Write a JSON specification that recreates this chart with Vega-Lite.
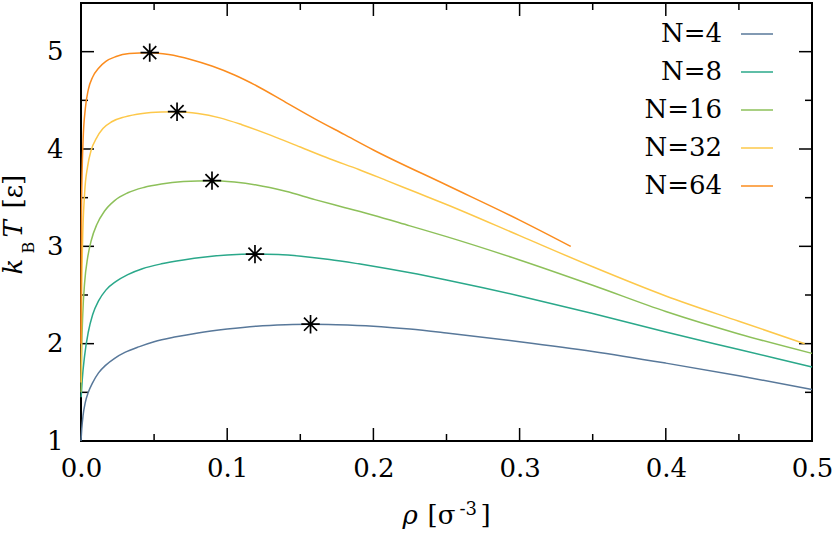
{
  "$schema": "https://vega.github.io/schema/vega-lite/v6.json",
  "autosize": {"type": "none"},
  "width": 731,
  "height": 438,
  "padding": {"left": 81, "top": 3, "right": 20, "bottom": 92},
  "background": "white",
  "config": {
    "view": {"stroke": "black", "strokeWidth": 2},
    "axis": {
      "grid": false, "ticks": false, "domain": false,
      "labelFont": "DejaVu Serif", "labelFontSize": 26, "labelColor": "black",
      "titleFont": "DejaVu Serif", "titleFontSize": 26, "titleColor": "black", "titleFontWeight": "normal"
    },
    "legend": {
      "orient": "none", "legendX": 659, "legendY": 14,
      "symbolType": "stroke", "symbolSize": 1024, "symbolStrokeWidth": 1.5,
      "labelFont": "DejaVu Serif", "labelFontSize": 26, "labelColor": "black",
      "labelAlign": "right", "labelOffset": -52, "rowPadding": 8, "padding": 0
    }
  },
  "datasets": {
    "curves": [
      {"series":"N=4","rho":0,"T":1.0},{"series":"N=4","rho":0.0005,"T":1.12},{"series":"N=4","rho":0.0014,"T":1.26},{"series":"N=4","rho":0.003,"T":1.40},{"series":"N=4","rho":0.005,"T":1.50},{"series":"N=4","rho":0.008,"T":1.60},{"series":"N=4","rho":0.012,"T":1.70},{"series":"N=4","rho":0.017,"T":1.78},{"series":"N=4","rho":0.023,"T":1.85},{"series":"N=4","rho":0.03,"T":1.91},{"series":"N=4","rho":0.04,"T":1.97},{"series":"N=4","rho":0.05,"T":2.02},{"series":"N=4","rho":0.065,"T":2.07},{"series":"N=4","rho":0.08,"T":2.11},{"series":"N=4","rho":0.1,"T":2.15},{"series":"N=4","rho":0.12,"T":2.18},{"series":"N=4","rho":0.14,"T":2.195},{"series":"N=4","rho":0.157,"T":2.20},{"series":"N=4","rho":0.175,"T":2.195},{"series":"N=4","rho":0.2,"T":2.18},{"series":"N=4","rho":0.225,"T":2.15},{"series":"N=4","rho":0.25,"T":2.11},{"series":"N=4","rho":0.3,"T":2.02},{"series":"N=4","rho":0.35,"T":1.92},{"series":"N=4","rho":0.4,"T":1.80},{"series":"N=4","rho":0.45,"T":1.67},{"series":"N=4","rho":0.5,"T":1.53},
      {"series":"N=8","rho":0.0001,"T":1.45},{"series":"N=8","rho":0.0008,"T":1.62},{"series":"N=8","rho":0.0025,"T":1.88},{"series":"N=8","rho":0.005,"T":2.12},{"series":"N=8","rho":0.008,"T":2.30},{"series":"N=8","rho":0.012,"T":2.44},{"series":"N=8","rho":0.017,"T":2.55},{"series":"N=8","rho":0.024,"T":2.64},{"series":"N=8","rho":0.032,"T":2.71},{"series":"N=8","rho":0.042,"T":2.77},{"series":"N=8","rho":0.055,"T":2.82},{"series":"N=8","rho":0.07,"T":2.86},{"series":"N=8","rho":0.085,"T":2.89},{"series":"N=8","rho":0.1,"T":2.91},{"series":"N=8","rho":0.119,"T":2.92},{"series":"N=8","rho":0.135,"T":2.915},{"series":"N=8","rho":0.152,"T":2.895},{"series":"N=8","rho":0.17,"T":2.865},{"series":"N=8","rho":0.19,"T":2.82},{"series":"N=8","rho":0.21,"T":2.77},{"series":"N=8","rho":0.23,"T":2.715},{"series":"N=8","rho":0.25,"T":2.655},{"series":"N=8","rho":0.275,"T":2.575},{"series":"N=8","rho":0.3,"T":2.49},{"series":"N=8","rho":0.35,"T":2.31},{"series":"N=8","rho":0.4,"T":2.12},{"series":"N=8","rho":0.45,"T":1.94},{"series":"N=8","rho":0.5,"T":1.76},
      {"series":"N=16","rho":0.0001,"T":1.5},{"series":"N=16","rho":0.0005,"T":1.95},{"series":"N=16","rho":0.0012,"T":2.3},{"series":"N=16","rho":0.0025,"T":2.63},{"series":"N=16","rho":0.0045,"T":2.88},{"series":"N=16","rho":0.007,"T":3.06},{"series":"N=16","rho":0.011,"T":3.23},{"series":"N=16","rho":0.016,"T":3.36},{"series":"N=16","rho":0.023,"T":3.47},{"series":"N=16","rho":0.032,"T":3.55},{"series":"N=16","rho":0.043,"T":3.605},{"series":"N=16","rho":0.055,"T":3.64},{"series":"N=16","rho":0.07,"T":3.665},{"series":"N=16","rho":0.0896,"T":3.675},{"series":"N=16","rho":0.105,"T":3.66},{"series":"N=16","rho":0.12,"T":3.63},{"series":"N=16","rho":0.14,"T":3.565},{"series":"N=16","rho":0.16,"T":3.48},{"series":"N=16","rho":0.18,"T":3.40},{"series":"N=16","rho":0.2,"T":3.32},{"series":"N=16","rho":0.225,"T":3.21},{"series":"N=16","rho":0.25,"T":3.10},{"series":"N=16","rho":0.3,"T":2.86},{"series":"N=16","rho":0.35,"T":2.60},{"series":"N=16","rho":0.4,"T":2.33},{"series":"N=16","rho":0.45,"T":2.10},{"series":"N=16","rho":0.5,"T":1.90},
      {"series":"N=32","rho":0.0001,"T":1.6},{"series":"N=32","rho":0.0004,"T":2.4},{"series":"N=32","rho":0.001,"T":3.0},{"series":"N=32","rho":0.0025,"T":3.55},{"series":"N=32","rho":0.0045,"T":3.82},{"series":"N=32","rho":0.007,"T":3.99},{"series":"N=32","rho":0.0105,"T":4.11},{"series":"N=32","rho":0.015,"T":4.21},{"series":"N=32","rho":0.021,"T":4.28},{"series":"N=32","rho":0.03,"T":4.33},{"series":"N=32","rho":0.042,"T":4.365},{"series":"N=32","rho":0.055,"T":4.38},{"series":"N=32","rho":0.0657,"T":4.383},{"series":"N=32","rho":0.08,"T":4.365},{"series":"N=32","rho":0.095,"T":4.32},{"series":"N=32","rho":0.11,"T":4.25},{"series":"N=32","rho":0.13,"T":4.14},{"series":"N=32","rho":0.15,"T":4.02},{"series":"N=32","rho":0.17,"T":3.90},{"series":"N=32","rho":0.19,"T":3.79},{"series":"N=32","rho":0.21,"T":3.67},{"series":"N=32","rho":0.23,"T":3.55},{"series":"N=32","rho":0.25,"T":3.43},{"series":"N=32","rho":0.3,"T":3.11},{"series":"N=32","rho":0.35,"T":2.79},{"series":"N=32","rho":0.4,"T":2.49},{"series":"N=32","rho":0.45,"T":2.23},{"series":"N=32","rho":0.495,"T":2.0},
      {"series":"N=64","rho":0.00005,"T":2.0},{"series":"N=64","rho":0.0001,"T":2.6},{"series":"N=64","rho":0.0004,"T":3.45},{"series":"N=64","rho":0.0014,"T":4.08},{"series":"N=64","rho":0.003,"T":4.42},{"series":"N=64","rho":0.005,"T":4.61},{"series":"N=64","rho":0.008,"T":4.74},{"series":"N=64","rho":0.012,"T":4.83},{"series":"N=64","rho":0.017,"T":4.90},{"series":"N=64","rho":0.024,"T":4.95},{"series":"N=64","rho":0.033,"T":4.98},{"series":"N=64","rho":0.047,"T":4.99},{"series":"N=64","rho":0.06,"T":4.97},{"series":"N=64","rho":0.075,"T":4.92},{"series":"N=64","rho":0.09,"T":4.85},{"series":"N=64","rho":0.105,"T":4.76},{"series":"N=64","rho":0.12,"T":4.65},{"series":"N=64","rho":0.14,"T":4.48},{"series":"N=64","rho":0.16,"T":4.31},{"series":"N=64","rho":0.18,"T":4.15},{"series":"N=64","rho":0.2,"T":3.99},{"series":"N=64","rho":0.25,"T":3.63},{"series":"N=64","rho":0.3,"T":3.27},{"series":"N=64","rho":0.335,"T":3.0}
    ],
    "peaks": [
      {"series":"N=4","rho":0.157,"T":2.20},
      {"series":"N=8","rho":0.119,"T":2.92},
      {"series":"N=16","rho":0.0896,"T":3.675},
      {"series":"N=32","rho":0.0657,"T":4.383},
      {"series":"N=64","rho":0.047,"T":4.99}
    ],
    "ticks": [
      {"kind":"xmajor","rho":0.1,"T":1},{"kind":"xmajor","rho":0.2,"T":1},{"kind":"xmajor","rho":0.3,"T":1},{"kind":"xmajor","rho":0.4,"T":1},
      {"kind":"xmajor","rho":0.1,"T":5.5},{"kind":"xmajor","rho":0.2,"T":5.5},{"kind":"xmajor","rho":0.3,"T":5.5},{"kind":"xmajor","rho":0.4,"T":5.5},
      {"kind":"xminor","rho":0.05,"T":1},{"kind":"xminor","rho":0.15,"T":1},{"kind":"xminor","rho":0.25,"T":1},{"kind":"xminor","rho":0.35,"T":1},{"kind":"xminor","rho":0.45,"T":1},
      {"kind":"xminor","rho":0.05,"T":5.5},{"kind":"xminor","rho":0.15,"T":5.5},{"kind":"xminor","rho":0.25,"T":5.5},{"kind":"xminor","rho":0.35,"T":5.5},{"kind":"xminor","rho":0.45,"T":5.5},
      {"kind":"ymajor","rho":0,"T":2},{"kind":"ymajor","rho":0,"T":3},{"kind":"ymajor","rho":0,"T":4},{"kind":"ymajor","rho":0,"T":5},
      {"kind":"ymajor","rho":0.5,"T":2},{"kind":"ymajor","rho":0.5,"T":3},{"kind":"ymajor","rho":0.5,"T":4},{"kind":"ymajor","rho":0.5,"T":5},
      {"kind":"yminor","rho":0,"T":1.5},{"kind":"yminor","rho":0,"T":2.5},{"kind":"yminor","rho":0,"T":3.5},{"kind":"yminor","rho":0,"T":4.5},
      {"kind":"yminor","rho":0.5,"T":1.5},{"kind":"yminor","rho":0.5,"T":2.5},{"kind":"yminor","rho":0.5,"T":3.5},{"kind":"yminor","rho":0.5,"T":4.5}
    ]
  },
  "resolve": {"axis": {"x": "independent", "y": "independent"}},
  "layer": [
    {
      "data": {"name": "ticks"},
      "transform": [{"filter": "datum.kind == 'xmajor'"}],
      "mark": {"type": "tick", "orient": "vertical", "size": 26, "thickness": 1.5, "color": "black", "opacity": 1, "clip": true},
      "encoding": {
        "x": {"field": "rho", "type": "quantitative", "scale": {"domain": [0, 0.5], "nice": false}, "axis": null},
        "y": {"field": "T", "type": "quantitative", "scale": {"domain": [1, 5.5], "nice": false, "zero": false}, "axis": null}
      }
    },
    {
      "data": {"name": "ticks"},
      "transform": [{"filter": "datum.kind == 'xminor'"}],
      "mark": {"type": "tick", "orient": "vertical", "size": 14, "thickness": 1.5, "color": "black", "opacity": 1, "clip": true},
      "encoding": {
        "x": {"field": "rho", "type": "quantitative", "scale": {"domain": [0, 0.5], "nice": false}, "axis": null},
        "y": {"field": "T", "type": "quantitative", "scale": {"domain": [1, 5.5], "nice": false, "zero": false}, "axis": null}
      }
    },
    {
      "data": {"name": "ticks"},
      "transform": [{"filter": "datum.kind == 'ymajor'"}],
      "mark": {"type": "tick", "orient": "horizontal", "size": 26, "thickness": 1.5, "color": "black", "opacity": 1, "clip": true},
      "encoding": {
        "x": {"field": "rho", "type": "quantitative", "scale": {"domain": [0, 0.5], "nice": false}, "axis": null},
        "y": {"field": "T", "type": "quantitative", "scale": {"domain": [1, 5.5], "nice": false, "zero": false}, "axis": null}
      }
    },
    {
      "data": {"name": "ticks"},
      "transform": [{"filter": "datum.kind == 'yminor'"}],
      "mark": {"type": "tick", "orient": "horizontal", "size": 14, "thickness": 1.5, "color": "black", "opacity": 1, "clip": true},
      "encoding": {
        "x": {"field": "rho", "type": "quantitative", "scale": {"domain": [0, 0.5], "nice": false}, "axis": null},
        "y": {"field": "T", "type": "quantitative", "scale": {"domain": [1, 5.5], "nice": false, "zero": false}, "axis": null}
      }
    },
    {
      "data": {"name": "curves"},
      "transform": [{"filter": "datum.series == 'N=4'"}],
      "mark": {"type": "line", "interpolate": "monotone", "strokeWidth": 1.5},
      "encoding": {
        "x": {"field": "rho", "type": "quantitative", "scale": {"domain": [0, 0.5], "nice": false},
          "axis": {"orient": "bottom", "values": [0,0.1,0.2,0.3,0.4,0.5], "format": ".1f", "labelFlush": false, "labelPadding": 14,
            "title": "ρ", "titleFontStyle": "italic", "titleX": 321, "titleY": 82, "titleAlign": "left", "titleBaseline": "alphabetic", "titleAngle": 0}},
        "y": {"field": "T", "type": "quantitative", "scale": {"domain": [1, 5.5], "nice": false, "zero": false},
          "axis": {"orient": "left", "values": [1,2,3,4,5], "format": "d", "labelFlush": false, "labelPadding": 18,
            "title": "k", "titleFontStyle": "italic", "titleX": -60, "titleY": 271, "titleAlign": "left", "titleBaseline": "alphabetic", "titleAngle": 270}},
        "color": {"field": "series", "type": "nominal",
          "scale": {"domain": ["N=4","N=8","N=16","N=32","N=64"], "range": ["#58789a","#2aa88a","#8dc05a","#fdc84a","#fb8c1e"]},
          "legend": {"title": null}}
      }
    },
    {
      "data": {"name": "curves"},
      "transform": [{"filter": "datum.series == 'N=8'"}],
      "mark": {"type": "line", "interpolate": "monotone", "strokeWidth": 1.5},
      "encoding": {
        "x": {"field": "rho", "type": "quantitative", "scale": {"domain": [0, 0.5], "nice": false},
          "axis": {"orient": "bottom", "labels": false,
            "title": "[σ", "titleX": 346, "titleY": 82, "titleAlign": "left", "titleBaseline": "alphabetic", "titleAngle": 0}},
        "y": {"field": "T", "type": "quantitative", "scale": {"domain": [1, 5.5], "nice": false, "zero": false},
          "axis": {"orient": "left", "labels": false,
            "title": "B", "titleFontSize": 16, "titleX": -48, "titleY": 250, "titleAlign": "left", "titleBaseline": "alphabetic", "titleAngle": 270}},
        "color": {"field": "series", "type": "nominal"}
      }
    },
    {
      "data": {"name": "curves"},
      "transform": [{"filter": "datum.series == 'N=16'"}],
      "mark": {"type": "line", "interpolate": "monotone", "strokeWidth": 1.5},
      "encoding": {
        "x": {"field": "rho", "type": "quantitative", "scale": {"domain": [0, 0.5], "nice": false},
          "axis": {"orient": "top", "labels": false,
            "title": "-3", "titleFontSize": 18, "titleX": 378, "titleY": 511, "titleAlign": "left", "titleBaseline": "alphabetic", "titleAngle": 0}},
        "y": {"field": "T", "type": "quantitative", "scale": {"domain": [1, 5.5], "nice": false, "zero": false},
          "axis": {"orient": "right", "labels": false,
            "title": "T", "titleFontStyle": "italic", "titleX": -791, "titleY": 234, "titleAlign": "left", "titleBaseline": "alphabetic", "titleAngle": 270}},
        "color": {"field": "series", "type": "nominal"}
      }
    },
    {
      "data": {"name": "curves"},
      "transform": [{"filter": "datum.series == 'N=32'"}],
      "mark": {"type": "line", "interpolate": "monotone", "strokeWidth": 1.5},
      "encoding": {
        "x": {"field": "rho", "type": "quantitative", "scale": {"domain": [0, 0.5], "nice": false},
          "axis": {"orient": "top", "labels": false,
            "title": "]", "titleX": 399, "titleY": 520, "titleAlign": "left", "titleBaseline": "alphabetic", "titleAngle": 0}},
        "y": {"field": "T", "type": "quantitative", "scale": {"domain": [1, 5.5], "nice": false, "zero": false},
          "axis": {"orient": "right", "labels": false,
            "title": "[ε]", "titleX": -791, "titleY": 205, "titleAlign": "left", "titleBaseline": "alphabetic", "titleAngle": 270}},
        "color": {"field": "series", "type": "nominal"}
      }
    },
    {
      "data": {"name": "curves"},
      "transform": [{"filter": "datum.series == 'N=64'"}],
      "mark": {"type": "line", "interpolate": "monotone", "strokeWidth": 1.5},
      "encoding": {
        "x": {"field": "rho", "type": "quantitative", "scale": {"domain": [0, 0.5], "nice": false}, "axis": null},
        "y": {"field": "T", "type": "quantitative", "scale": {"domain": [1, 5.5], "nice": false, "zero": false}, "axis": null},
        "color": {"field": "series", "type": "nominal"}
      }
    },
    {
      "data": {"name": "peaks"},
      "mark": {"type": "point", "shape": "M-1,0L1,0M0,-1L0,1M-0.71,-0.71L0.71,0.71M-0.71,0.71L0.71,-0.71", "size": 340, "stroke": "black", "strokeWidth": 1.7, "filled": false, "opacity": 1},
      "encoding": {
        "x": {"field": "rho", "type": "quantitative", "scale": {"domain": [0, 0.5], "nice": false}, "axis": null},
        "y": {"field": "T", "type": "quantitative", "scale": {"domain": [1, 5.5], "nice": false, "zero": false}, "axis": null}
      }
    }
  ]
}
